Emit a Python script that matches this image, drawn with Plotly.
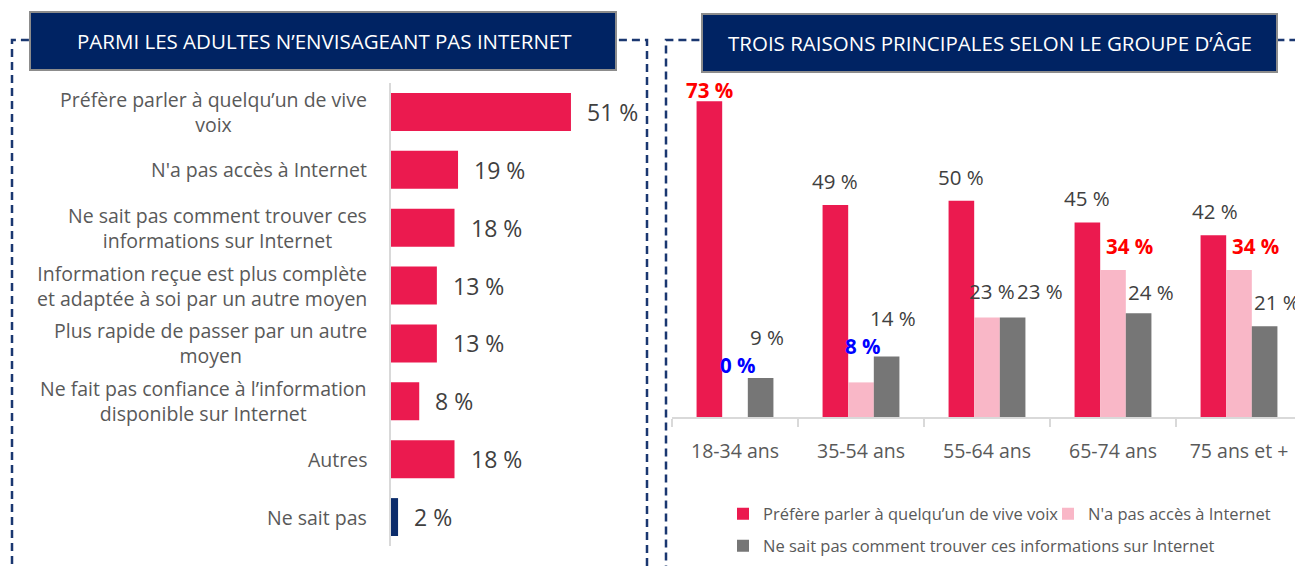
import plotly.graph_objects as go

# ---------------- DATA ----------------
left_categories = [
    "Préfère parler à quelqu’un de vive<br>voix",
    "N'a pas accès à Internet",
    "Ne sait pas comment trouver ces<br>informations sur Internet",
    "Information reçue est plus complète<br>et adaptée à soi par un autre moyen",
    "Plus rapide de passer par un autre<br>moyen",
    "Ne fait pas confiance à l’information<br>disponible sur Internet",
    "Autres",
    "Ne sait pas",
]
left_values = [51, 19, 18, 13, 13, 8, 18, 2]

age_groups = ["18-34 ans", "35-54 ans", "55-64 ans", "65-74 ans", "75 ans et +"]
series_names = [
    "Préfère parler à quelqu’un de vive voix",
    "N'a pas accès à Internet",
    "Ne sait pas comment trouver ces informations sur Internet",
]
prefere_vals = [73, 49, 50, 45, 42]
acces_vals = [0, 8, 23, 34, 34]
sait_pas_vals = [9, 14, 23, 24, 21]

left_title = "PARMI LES ADULTES N’ENVISAGEANT PAS INTERNET"
right_title = "TROIS RAISONS PRINCIPALES SELON LE GROUPE D’ÂGE"

# ---------------- STYLE ----------------
OFF = 8                       # page body margin
W, H = 1303 - OFF, 566 - OFF  # figure size
FONT = "Open Sans"
RED = "#EB1A4F"
PINK = "#F9B7C7"
GREY = "#767676"
NAVY = "#0B2C6B"
DASH_COL = "#1A3770"
TITLE_FILL = "#002363"
TXT = "#404040"
LBL = "#595959"
AXIS = "#D9D9D9"


def px(x):
    return (x - OFF) / W


def py(y):
    return 1 - (y - OFF) / H


left_colors = [RED] * (len(left_values) - 1) + [NAVY]
series_vals = [prefere_vals, acces_vals, sait_pas_vals]
series_colors = [RED, PINK, GREY]
series_shift = [-25.7, 0, 25.7]
# highlighted labels: (series index, group index) -> colour (bold)
highlights = {(0, 0): "#FF0000", (1, 0): "#0000FF", (1, 1): "#0000FF",
              (1, 3): "#FF0000", (1, 4): "#FF0000"}
# label nudges in pixels (dx, dy) per series / group
label_dx = [[0, 0, 0, 0, 2], [3, 2, 5, 16, 16], [6, 6, 27, 12, 12]]
label_dy = [[-13, 0, 0, 0, 0], [28, 12, 3, 0, 0], [17, 14, 3, -3, 0]]

fig = go.Figure()

# Left horizontal bars
fig.add_trace(go.Bar(
    x=left_values, y=left_categories, orientation="h",
    marker=dict(color=left_colors, line=dict(width=0)),
    width=0.655, showlegend=False, xaxis="x", yaxis="y", hoverinfo="x+y",
))

# Right grouped bars
legend_ids = ["legend", "legend2", "legend3"]
for i, (name, vals, col) in enumerate(zip(series_names, series_vals, series_colors)):
    fig.add_trace(go.Bar(
        x=age_groups, y=vals, name=name,
        marker=dict(color=col, line=dict(width=0)),
        xaxis="x2", yaxis="y2", legend=legend_ids[i],
    ))

annotations = []
# Left category labels
for cat in left_categories:
    annotations.append(dict(
        xref="paper", yref="y", x=px(369), y=cat, text=cat,
        xanchor="right", yanchor="middle", align="center", showarrow=False,
        font=dict(family=FONT, size=19.5, color=LBL),
    ))
# Left value labels
for cat, v in zip(left_categories, left_values):
    annotations.append(dict(
        xref="x", yref="y", x=v, y=cat, text=f"{v} %",
        xanchor="left", yanchor="middle", xshift=14, showarrow=False,
        font=dict(family=FONT, size=23, color=TXT),
    ))
# Right value labels
for si, vals in enumerate(series_vals):
    for gi, v in enumerate(vals):
        hl = highlights.get((si, gi))
        txt = f"<b>{v} %</b>" if hl else f"{v} %"
        annotations.append(dict(
            xref="x2", yref="y2", x=age_groups[gi], y=v, text=txt,
            xanchor="center", yanchor="bottom",
            xshift=series_shift[si] + label_dx[si][gi],
            yshift=8 + label_dy[si][gi], showarrow=False,
            font=dict(family=FONT, size=20.5, color=hl if hl else TXT),
        ))
# Titles
annotations.append(dict(xref="paper", yref="paper", x=px(324), y=py(41), text=left_title,
                        showarrow=False, xanchor="center", yanchor="middle",
                        font=dict(family=FONT, size=20.5, color="white")))
annotations.append(dict(xref="paper", yref="paper", x=px(990), y=py(43), text=right_title,
                        showarrow=False, xanchor="center", yanchor="middle",
                        font=dict(family=FONT, size=20.5, color="white")))

dash = dict(color=DASH_COL, width=2.5, dash="8px,5px")
shapes = [
    dict(type="rect", xref="paper", yref="paper", x0=px(12), x1=px(647), y0=-0.05, y1=py(40),
         line=dash, layer="below"),
    dict(type="rect", xref="paper", yref="paper", x0=px(666), x1=1.05, y0=-0.05, y1=py(40),
         line=dash, layer="below"),
    dict(type="rect", xref="paper", yref="paper", x0=px(30), x1=px(616), y0=py(70), y1=py(12),
         fillcolor=TITLE_FILL, line=dict(color="#8C8C8C", width=2), layer="above"),
    dict(type="rect", xref="paper", yref="paper", x0=px(702), x1=px(1277), y0=py(72), y1=py(14),
         fillcolor=TITLE_FILL, line=dict(color="#8C8C8C", width=2), layer="above"),
]

legend_font = dict(family=FONT, size=16.5, color=LBL)
legend_common = dict(orientation="h", xanchor="left", yanchor="middle",
                     font=legend_font, itemwidth=30, bgcolor="rgba(0,0,0,0)")

fig.update_layout(
    width=W, height=H,
    margin=dict(l=0, r=0, t=0, b=0),
    paper_bgcolor="white", plot_bgcolor="white",
    font=dict(family=FONT, color=LBL),
    barmode="group", bargap=0.39, bargroupgap=0,
    xaxis=dict(domain=[px(391), px(638)], range=[0, 70], visible=False, fixedrange=True),
    yaxis=dict(domain=[py(546), py(83)], type="category", autorange="reversed",
               showticklabels=False, showline=True, linecolor=AXIS, linewidth=1.5,
               ticks="", showgrid=False, zeroline=False, anchor="x"),
    xaxis2=dict(domain=[px(672), px(1302)], anchor="y2", type="category",
                showline=True, linecolor=AXIS, linewidth=2,
                ticks="outside", tickson="boundaries", ticklen=8, tickcolor=AXIS, tickwidth=2,
                ticklabelstandoff=16,
                tickfont=dict(family=FONT, size=19.5, color=LBL), showgrid=False),
    yaxis2=dict(domain=[py(417), py(71)], range=[0, 80], anchor="x2", visible=False),
    legend=dict(x=px(723), y=py(514), **legend_common),
    legend2=dict(x=px(1048), y=py(514), **legend_common),
    legend3=dict(x=px(723), y=py(546), **legend_common),
    annotations=annotations,
    shapes=shapes,
)

fig.write_html("out.html")
